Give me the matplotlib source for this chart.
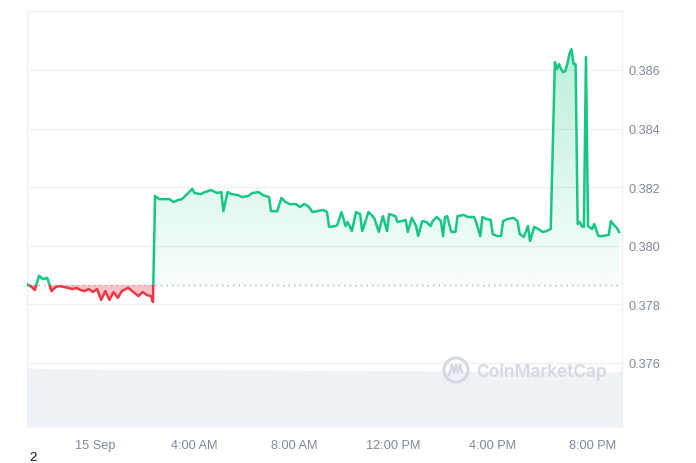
import numpy as np
import pandas as pd
import matplotlib
matplotlib.use("Agg")
import matplotlib.pyplot as plt
import matplotlib.dates as mdates
import matplotlib.transforms as mtransforms
from matplotlib.patches import Circle, Rectangle
from matplotlib.lines import Line2D
from matplotlib.path import Path
from matplotlib.colors import to_rgb

plt.rcParams['font.family'] = ['Liberation Sans', 'DejaVu Sans']

# ---------------- data ----------------
DAY = pd.Timestamp("2023-09-15")

# minutes relative to 00:00 on 15 Sep
price_minutes = [
    -165, -155, -145, -135, -125, -115, -105, -95, -85, -75, -65, -55, -45, -35, -25, -15, -5,
    5, 15, 25, 35, 45, 55, 65, 70, 80, 95, 105, 115, 125, 135, 140,
    145, 155, 170, 180, 190, 200, 210, 220, 235, 240, 255, 265, 280, 295, 305, 310, 320, 330,
    345, 355, 370, 380, 395, 405, 420, 425, 440, 450, 460, 470, 485, 495, 505, 515, 525, 535,
    550, 560, 565, 580, 585, 595, 605, 610, 620, 630, 640, 645, 660, 670, 675, 685, 695, 705,
    710, 725, 730, 740, 750, 755, 765, 775, 780, 790, 800, 810, 815, 825, 835, 840, 845, 850,
    860, 870, 875, 890, 900, 915, 920, 930, 935, 945, 955, 960, 970, 980, 985, 995, 1010, 1020,
    1025, 1035, 1045, 1050, 1060, 1070, 1080, 1090, 1100, 1110, 1115, 1120, 1125, 1130, 1135,
    1140, 1145, 1150, 1155, 1160, 1165, 1170, 1175, 1180, 1185, 1190, 1200, 1205, 1215, 1225,
    1240, 1245, 1255, 1260, 1265,
]
prices = [
    0.37869, 0.37862, 0.37849, 0.37897, 0.37886, 0.37890, 0.37845, 0.37859, 0.37862, 0.37859,
    0.37856, 0.37852, 0.37856, 0.37849, 0.37845, 0.37852, 0.37842,
    0.37852, 0.37815, 0.37845, 0.37815, 0.37842, 0.37822, 0.37845, 0.37849, 0.37856, 0.37839,
    0.37828, 0.37842, 0.37832, 0.37828, 0.37808,
    0.38170, 0.38159, 0.38159, 0.38159, 0.38149, 0.38156, 0.38159, 0.38173, 0.38194, 0.38180,
    0.38176, 0.38183, 0.38190, 0.38180, 0.38183, 0.38118, 0.38183, 0.38176,
    0.38173, 0.38166, 0.38170, 0.38180, 0.38183, 0.38173, 0.38166, 0.38118, 0.38118, 0.38163,
    0.38149, 0.38142, 0.38142, 0.38132, 0.38142, 0.38135, 0.38115, 0.38118,
    0.38122, 0.38115, 0.38064, 0.38067, 0.38071, 0.38115, 0.38067, 0.38081, 0.38050, 0.38115,
    0.38108, 0.38050, 0.38115, 0.38101, 0.38091, 0.38047, 0.38101, 0.38050,
    0.38108, 0.38101, 0.38081, 0.38084, 0.38088, 0.38047, 0.38095, 0.38067, 0.38033, 0.38084,
    0.38081, 0.38067, 0.38084, 0.38098, 0.38084, 0.38033, 0.38098, 0.38101,
    0.38047, 0.38047, 0.38101, 0.38105, 0.38098, 0.38098, 0.38081, 0.38033, 0.38098, 0.38091,
    0.38088, 0.38040, 0.38033, 0.38033, 0.38084, 0.38091, 0.38095, 0.38084,
    0.38040, 0.38030, 0.38067, 0.38016, 0.38064, 0.38057, 0.38047, 0.38050, 0.38057, 0.38627,
    0.38603, 0.38620, 0.38603, 0.38593, 0.38596,
    0.38620, 0.38654, 0.38671, 0.38620, 0.38620, 0.38074, 0.38081, 0.38067, 0.38064, 0.38644,
    0.38067, 0.38057, 0.38074, 0.38033, 0.38033,
    0.38037, 0.38084, 0.38067, 0.38060, 0.38047,
]
baseline_price = 0.37866

vol_minutes = [-165, -105, -45, 15, 75, 135, 195, 255, 315, 375, 435, 495, 555, 615, 675,
               735, 795, 855, 915, 975, 1035, 1095, 1155, 1215, 1272]
volumes = [3.52, 3.49, 3.47, 3.45, 3.44, 3.43, 3.42, 3.42, 3.41, 3.41, 3.40, 3.39, 3.38,
           3.37, 3.36, 3.36, 3.35, 3.34, 3.33, 3.32, 3.32, 3.31, 3.30, 3.29, 3.28]

y_ticks = [0.376, 0.378, 0.380, 0.382, 0.384, 0.386]
y_tick_labels = ["0.376", "0.378", "0.380", "0.382", "0.384", "0.386"]
x_tick_hours = [0, 4, 8, 12, 16, 20]
x_tick_labels = ["15 Sep", "4:00 AM", "8:00 AM", "12:00 PM", "4:00 PM", "8:00 PM"]
view_start_min, view_end_min = -164, 1272
y_min, y_max = 0.37381, 0.388

GREEN = "#16c784"
RED = "#ea3943"
GRID = "#eef0f3"
LABEL = "#7f899c"

# ---------------- figure ----------------
def to_num(minutes):
    return mdates.date2num((DAY + pd.to_timedelta(minutes, unit="m")).to_pydatetime())

tn = to_num(price_minutes)
p = np.array(prices)
vn = to_num(vol_minutes)
x0, x1 = to_num([view_start_min, view_end_min])

fig = plt.figure(figsize=(6.96, 4.64), dpi=100)
W, H = 696, 464
ax = fig.add_axes([27 / W, 1 - 428 / H, (622 - 27) / W, (428 - 12.4) / H])
ax2 = ax.twinx()
ax.set_zorder(ax2.get_zorder() + 1)
ax.patch.set_visible(False)

# volume area
ax2.fill_between(vn, volumes, 0, color="#eef1f5", lw=0)
ax2.set_ylim(0, max(volumes) * (428 - 12.4) / 59)
ax2.set_yticks([])
for s in ax2.spines.values():
    s.set_visible(False)

# green gradient fill above baseline
grad = np.linspace(0, 1, 256)
rgba = np.zeros((256, 1, 4))
rgba[..., :3] = to_rgb(GREEN)
rgba[:, 0, 3] = 0.03 + 0.30 * grad
im = ax.imshow(rgba, extent=[x0, x1, baseline_price, y_max], origin="lower",
               aspect="auto", interpolation="bilinear", zorder=1)
poly = ax.fill_between(tn, p, baseline_price, where=p >= baseline_price, interpolate=True,
                       facecolor="none", edgecolor="none")
comp = Path.make_compound_path(*poly.get_paths())
im.set_clip_path(comp, transform=ax.transData)

# red fill below baseline
ax.fill_between(tn, p, baseline_price, where=p <= baseline_price, interpolate=True,
                color=RED, alpha=0.3, lw=0, zorder=1)

# lines clipped by baseline
blend = mtransforms.blended_transform_factory(ax.transAxes, ax.transData)
lg, = ax.plot(tn, p, color=GREEN, lw=1.8, solid_joinstyle="round", zorder=3)
lg.set_clip_path(Rectangle((0, baseline_price), 1, 1, transform=blend))
lr, = ax.plot(tn, p, color=RED, lw=1.8, solid_joinstyle="round", zorder=3)
lr.set_clip_path(Rectangle((0, baseline_price - 1), 1, 1, transform=blend))

# baseline dotted
ax.axhline(baseline_price, color="#a3acbd", lw=1, ls=(0, (1, 3)), zorder=2)

ax.set_xlim(x0, x1)
ax.set_ylim(y_min, y_max)

ax.yaxis.tick_right()
ax.set_yticks(y_ticks)
ax.set_yticklabels(y_tick_labels)
ax.set_xticks(to_num([h * 60 for h in x_tick_hours]))
ax.set_xticklabels(x_tick_labels)
ax.tick_params(axis="both", length=0, labelsize=9.2, labelcolor=LABEL)
ax.tick_params(axis="y", pad=5)
ax.tick_params(axis="x", pad=9)
ax.grid(axis="y", color=GRID, lw=1, zorder=0)
ax.set_axisbelow(True)
for side in ["left", "right", "top"]:
    ax.spines[side].set_color(GRID)
    ax.spines[side].set_linewidth(1)
ax.spines["bottom"].set_visible(False)

# watermark
wm = "#d3d9e3"
fig.patches.append(Circle((456 / 100, (H - 371) / 100), 0.12, transform=fig.dpi_scale_trans,
                          fill=False, lw=2.2, edgecolor=wm, zorder=5))
mx = np.array([449, 452, 454, 456, 458, 460, 462]) / 100
my = (H - np.array([376, 366, 374, 366, 374, 366, 373])) / 100
fig.lines.append(Line2D(mx, my, transform=fig.dpi_scale_trans, color=wm, lw=1.8,
                        solid_joinstyle="round", zorder=5))
fig.text(476 / W, 1 - 372 / H, "CoinMarketCap", color=wm, fontsize=12.5, fontweight="semibold",
         family=["Inter", "DejaVu Sans"], ha="left", va="center", zorder=5)

fig.text(33 / W, 1 - 458 / H, "2", color="#111111", fontsize=9.5, ha="center", va="center")

fig.savefig("out.png", dpi=100, facecolor="white")
